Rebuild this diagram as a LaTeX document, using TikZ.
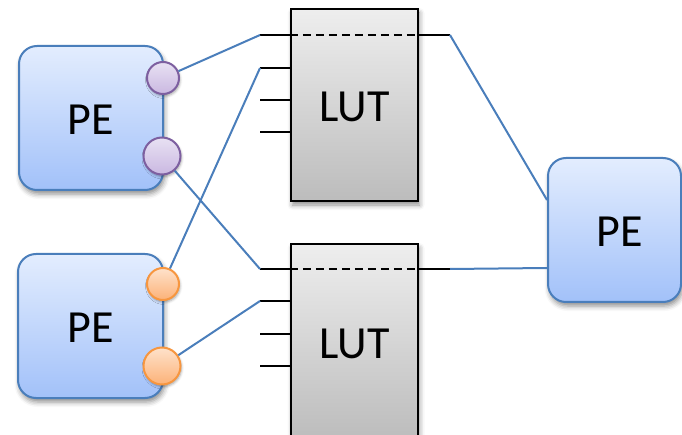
\documentclass[tikz,border=0pt]{standalone}
\usepackage{fontspec}
\setmainfont{Carlito}
\usetikzlibrary{shadows.blur,calc}
\definecolor{peTop}{HTML}{E3EDFE}
\definecolor{peBot}{HTML}{A2C1F9}
\definecolor{peLine}{HTML}{4A7EBB}
\definecolor{lutTop}{HTML}{EEEEEE}
\definecolor{lutBot}{HTML}{BCBCBC}
\definecolor{vioTop}{HTML}{E8E1F3}
\definecolor{vioBot}{HTML}{CAB8E1}
\definecolor{vioLine}{HTML}{7D5FA0}
\definecolor{orTop}{HTML}{FEE2CB}
\definecolor{orBot}{HTML}{FCB278}
\definecolor{orLine}{HTML}{F7963F}
\definecolor{wire}{HTML}{4A7EBB}
\tikzset{
  softshadow/.style={blur shadow={shadow xshift=1.5pt, shadow yshift=-4pt,
      shadow blur radius=5pt, shadow opacity=45}},
  pebox/.style={rectangle, rounded corners=18pt, draw=peLine, line width=2pt,
      top color=peTop, bottom color=peBot, softshadow,
      text height=33pt, text depth=0pt,
      font=\fontsize{46}{55}\selectfont},
  lutbox/.style={rectangle, draw=black, line width=2.5pt,
      top color=lutTop, bottom color=lutBot, softshadow,
      minimum width=127pt, minimum height=192pt,
      text height=33pt, text depth=0pt,
      font=\fontsize{46}{55}\selectfont},
  portshadow/.style={blur shadow={shadow xshift=1pt, shadow yshift=-2pt,
      shadow blur radius=2.5pt, shadow opacity=35}},
  vioport/.style={circle, draw=vioLine, line width=2pt, inner sep=0pt,
      top color=vioTop, bottom color=vioBot, portshadow},
  orport/.style={circle, draw=orLine, line width=2pt, inner sep=0pt,
      top color=orTop, bottom color=orBot, portshadow},
  wireline/.style={draw=wire, line width=2pt},
  stub/.style={draw=black, line width=2.5pt},
  stubdash/.style={draw=black, line width=2pt, dash pattern=on 8pt off 5pt},
}
\begin{document}
\begin{tikzpicture}[x=1pt,y=-1pt]
\useasboundingbox (0,0) rectangle (682,435);
\clip (0,0) rectangle (682,435);

% processing elements
\node[pebox, minimum width=144pt, minimum height=144pt] (pe1) at (91,118) {PE};
\node[pebox, minimum width=145pt, minimum height=144pt] (pe2) at (90.5,326) {PE};
\node[pebox, minimum width=133pt, minimum height=144pt] (pe3) at (614.5,230) {\hspace*{11pt}PE};

% ports on the left elements
\node[vioport, minimum size=32pt] (c1a) at (163,78) {};
\node[vioport, minimum size=37pt] (c1b) at (162,156) {};
\node[orport, minimum size=32pt] (c2a) at (163,284) {};
\node[orport, minimum size=37pt] (c2b) at (162,366) {};

% lookup tables
\node[lutbox] (lut1) at (354.5,105) {LUT};
\node[lutbox, minimum height=196pt] (lut2) at (354.5,342) {LUT};

% input stub ends and output stub ends
\coordinate (s1a) at (260,35);
\coordinate (s1b) at (260,68);
\coordinate (s1c) at (260,100);
\coordinate (s1d) at (260,132);
\coordinate (s2a) at (260,269);
\coordinate (s2b) at (260,301);
\coordinate (s2c) at (260,334);
\coordinate (s2d) at (260,366);
\coordinate (o1) at (450,35);
\coordinate (o2) at (450,269);

% stubs of the first table
\foreach \s in {s1a,s1b,s1c,s1d}
  \draw[stub] (\s) -- (\s -| lut1.west);
\draw[stubdash] (s1a -| lut1.west) -- (s1a -| lut1.east);
\draw[stub] (s1a -| lut1.east) -- (o1);

% stubs of the second table
\foreach \s in {s2a,s2b,s2c,s2d}
  \draw[stub] (\s) -- (\s -| lut2.west);
\draw[stubdash] (s2a -| lut2.west) -- (s2a -| lut2.east);
\draw[stub] (s2a -| lut2.east) -- (o2);

% wiring
\draw[wireline] (c1a) -- (s1a);
\draw[wireline] (c1b) -- (s2a);
\draw[wireline] (c2a) -- (s1b);
\draw[wireline] (c2b) -- (s2b);
\draw[wireline] (o1) -- ($(pe3.west)+(0,-30)$);
\draw[wireline] (o2) -- ($(pe3.west)+(0,38)$);
\end{tikzpicture}
\end{document}
